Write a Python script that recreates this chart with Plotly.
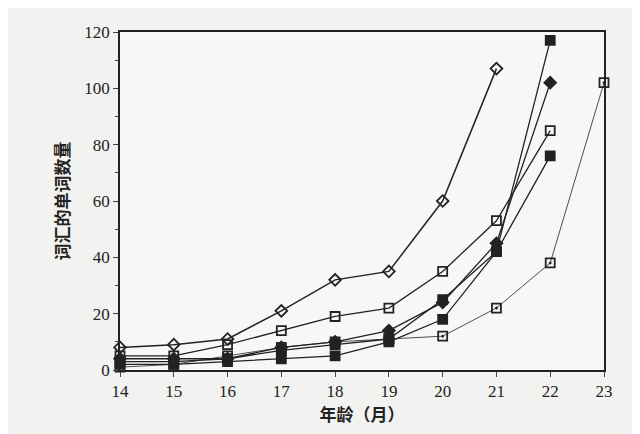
import plotly.graph_objects as go

months = [14, 15, 16, 17, 18, 19, 20, 21, 22, 23]
s_open_diamond = [8, 9, 11, 21, 32, 35, 60, 107]
s_open_square = [5, 5, 9, 14, 19, 22, 35, 53, 85]
s_fill_square_a = [3, 3, 4, 7, 9, 11, 25, 42, 117]
s_fill_diamond = [4, 4, 4, 8, 10, 14, 24, 45, 102]
s_fill_square_b = [2, 2, 3, 4, 5, 10, 18, 42, 76]
s_dotted_square = [1, 2, 5, 8, 10, 11, 12, 22, 38, 102]

series = [
    (s_open_diamond, "diamond-open", "solid", 1.5),
    (s_open_square, "square-open", "solid", 1.3),
    (s_fill_square_a, "square", "solid", 1.3),
    (s_fill_diamond, "diamond", "solid", 1.3),
    (s_fill_square_b, "square", "solid", 1.3),
    (s_dotted_square, "square-open-dot", "solid", 0.8),
]

fig = go.Figure()
for ys, sym, dash, w in series:
    fig.add_trace(go.Scatter(
        x=months[:len(ys)], y=ys, mode="lines+markers",
        line=dict(color="#222", width=w, dash=dash),
        marker=dict(symbol=sym, size=9, color="#222", line=dict(color="#222", width=1.8)),
        showlegend=False, cliponaxis=False))

fig.update_layout(
    width=640, height=434, paper_bgcolor="#f2f2f0", plot_bgcolor="#f7f7f5",
    margin=dict(l=112, r=44, t=24, b=72),
    font=dict(family="Liberation Serif", size=17, color="#222"),
    xaxis=dict(range=[14, 23], tickvals=months, showline=True, linecolor="#222", linewidth=1.5,
               mirror=True, ticks="outside", ticklen=5, showgrid=False, zeroline=False,
               title=dict(text="<b>年龄（月）</b>", font=dict(family="Noto Sans CJK SC", size=17), standoff=8)),
    yaxis=dict(range=[0, 120], dtick=20, showline=True, linecolor="#222", linewidth=1.5,
               mirror=True, ticks="outside", ticklen=5, showgrid=False, zeroline=False,
               minor=dict(dtick=10, ticks="outside", ticklen=3),
               title=dict(text="<b>词汇的单词数量</b>", font=dict(family="Noto Sans CJK SC", size=17), standoff=10)),
)
fig.write_html("out.html")
